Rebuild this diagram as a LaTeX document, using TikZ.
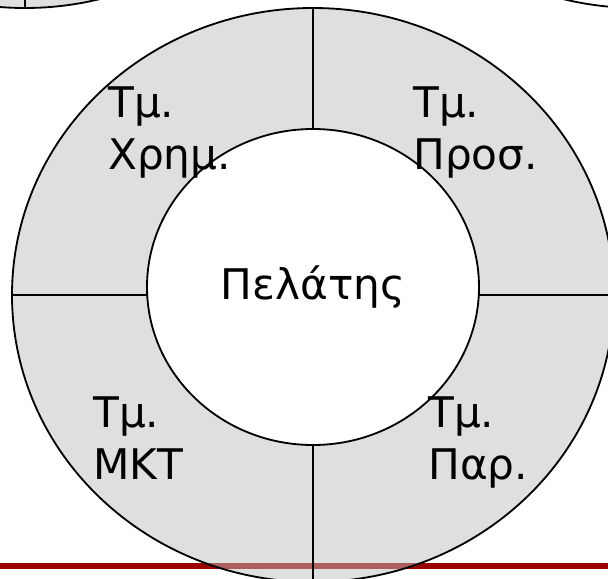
\documentclass[tikz,border=0pt]{standalone}
\usepackage{fontspec}
\setmainfont{DejaVu Sans}
\definecolor{RingGray}{HTML}{BBC1BF}
\definecolor{BarRed}{HTML}{9B0000}
\usetikzlibrary{positioning}

\begin{document}
\begin{tikzpicture}[x=0.025cm, y=-0.025cm,
   ring/.style={draw=black, line width=1.3pt, fill=RingGray, fill opacity=0.5},
   divider/.style={draw=black, line width=1.3pt},
   dept/.style={align=left, anchor=north west, inner sep=0pt,
      font=\fontsize{30}{37}\selectfont}]
   \useasboundingbox (0,0) rectangle (608,579);
   \clip (0,0) rectangle (608,579);
   % Red bar at the bottom
   \draw[BarRed, line width=3.6pt] (0,566) -- (608,566);
   % Neighbouring rings, cut off at the top
   \draw[ring] (25,-279) ellipse [x radius=301, y radius=287];
   \draw[divider] (25,-279) -- (25,8);
   \draw[divider] (638,-279) ellipse [x radius=301, y radius=287];
   % Outer ring
   \draw[ring] (313,295) ellipse [x radius=301, y radius=287];
   % Dividers between the departments
   \draw[divider] (313,8) -- (313,582);
   \draw[divider] (12,295) -- (614,295);
   % Inner circle
   \draw[divider, fill=white] (313,287) ellipse [x radius=166, y radius=158];
   % Labels
   \node[font=\fontsize{30}{37}\selectfont] (pelatis) at (313,287) {Πελάτης};
   \node[dept] (xrim) at (108,86) {Τμ.\\Χρημ.};
   \node[dept] (pros) at (413,86) {Τμ.\\Προσ.};
   \node[dept] (mkt) at (93,396) {Τμ.\\ΜΚΤ};
   \node[dept] (par) at (428,396) {Τμ.\\Παρ.};
\end{tikzpicture}
\end{document}
